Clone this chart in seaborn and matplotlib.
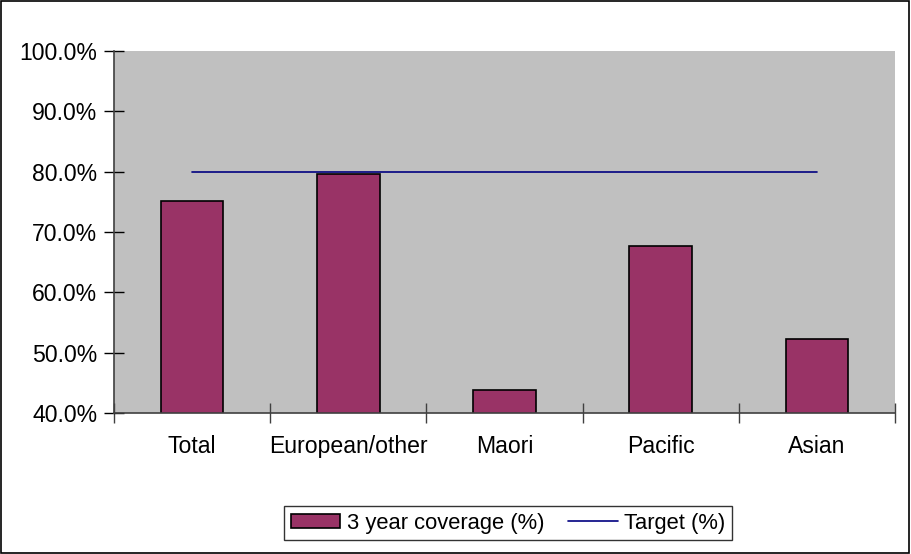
import numpy as np
import pandas as pd
import matplotlib
matplotlib.use('Agg')
import matplotlib.pyplot as plt
import seaborn as sns
from matplotlib.ticker import FixedLocator, PercentFormatter

# Data
categories = ['Total', 'European/other', 'Maori', 'Pacific', 'Asian']
coverage = [75.1, 79.6, 43.8, 67.6, 52.3]
target = [80.0, 80.0, 80.0, 80.0, 80.0]

df = pd.DataFrame({'Group': categories, 'Coverage': coverage, 'Target': target})

sns.set_style('white', {'xtick.bottom': True, 'ytick.left': True,
                        'text.color': 'black', 'xtick.color': 'black', 'ytick.color': 'black'})
plt.rcParams['font.family'] = ['Liberation Sans', 'DejaVu Sans']

fig = plt.figure(figsize=(9.11, 5.54), dpi=100)
ax = fig.add_axes([114 / 911, 141 / 554, 781 / 911, 362 / 554])
ax.set_facecolor('#C0C0C0')

sns.barplot(data=df, x='Group', y='Coverage', color='#993366', edgecolor='black',
            linewidth=1.2, width=0.4, saturation=1, ax=ax,
            label='3 year coverage (%)', legend=False)
ax.plot(df['Group'], df['Target'], color='#000080', linewidth=1.2, label='Target (%)')
if ax.get_legend() is not None:
    ax.get_legend().remove()

ax.set_ylim(40, 100)
ax.set_xlim(-0.5, len(categories) - 0.5)
ax.set_yticks(np.arange(40, 101, 10))
ax.yaxis.set_major_formatter(PercentFormatter(decimals=1))
ax.set_xlabel('')
ax.set_ylabel('')

# category labels at centres, tick marks at boundaries
ax.tick_params(axis='x', which='major', length=0, labelsize=16.6, pad=16, labelcolor='black')
ax.xaxis.set_minor_locator(FixedLocator(np.arange(-0.5, len(categories), 1.0)))
ax.tick_params(axis='x', which='minor', direction='inout', length=14, width=1, color='#404040')
ax.tick_params(axis='y', direction='inout', length=14, width=1, color='black',
               labelsize=16.6, pad=5, labelcolor='black')

for side in ['top', 'right']:
    ax.spines[side].set_visible(False)
for side in ['left', 'bottom']:
    ax.spines[side].set_color('#404040')
    ax.spines[side].set_linewidth(1.2)

handles, labels = ax.get_legend_handles_labels()
order = [labels.index('3 year coverage (%)'), labels.index('Target (%)')]
leg = fig.legend([handles[i] for i in order], [labels[i] for i in order],
                 loc='center', bbox_to_anchor=(508 / 911, 1 - 523 / 554), ncol=2,
                 frameon=True, fancybox=False, edgecolor='black', fontsize=15.8,
                 handlelength=2.25, handleheight=0.6, columnspacing=1.1,
                 handletextpad=0.3, borderpad=0.3, borderaxespad=0)
leg.get_frame().set_linewidth(1.0)

# outer chart border
fig.patches.append(plt.Rectangle((0.001, 0.001), 0.997, 0.997, transform=fig.transFigure,
                                 fill=False, edgecolor='black', linewidth=1.2))

fig.savefig('out.png', dpi=100)
